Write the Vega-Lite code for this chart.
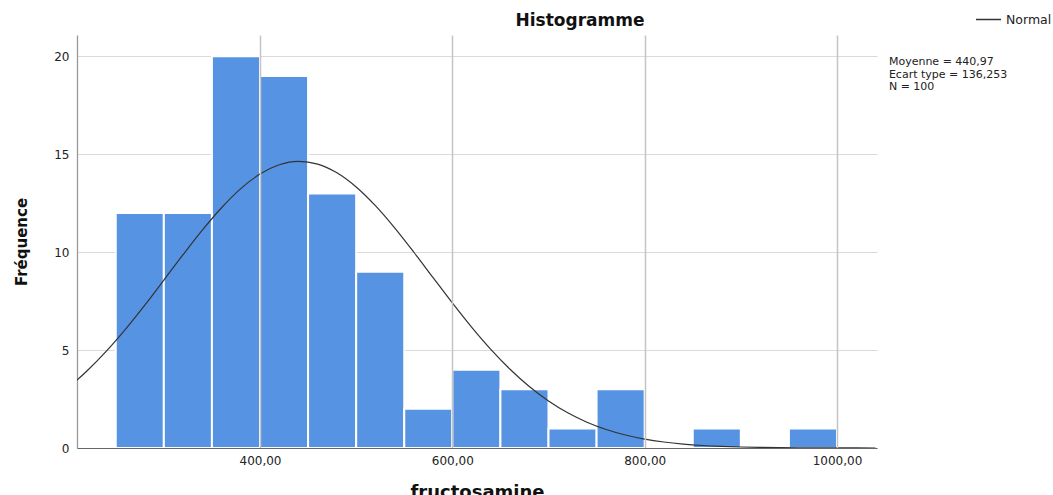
{
  "$schema": "https://vega.github.io/schema/vega-lite/v6.json",
  "autosize": {"type": "none"},
  "padding": {"left": 77, "top": 35, "right": 176, "bottom": 47},
  "width": 800,
  "height": 413,
  "background": "white",
  "title": {"text": "Histogramme", "anchor": "middle", "dx": 103, "dy": 45, "font": "DejaVu Sans", "fontSize": 17, "fontWeight": "bold", "color": "#111", "baseline": "alphabetic", "offset": 8},
  "config": {"view": {"stroke": null}},
  "datasets": {
    "bins": [
      {"bin_start": 250, "bin_end": 300, "count": 12},
      {"bin_start": 300, "bin_end": 350, "count": 12},
      {"bin_start": 350, "bin_end": 400, "count": 20},
      {"bin_start": 400, "bin_end": 450, "count": 19},
      {"bin_start": 450, "bin_end": 500, "count": 13},
      {"bin_start": 500, "bin_end": 550, "count": 9},
      {"bin_start": 550, "bin_end": 600, "count": 2},
      {"bin_start": 600, "bin_end": 650, "count": 4},
      {"bin_start": 650, "bin_end": 700, "count": 3},
      {"bin_start": 700, "bin_end": 750, "count": 1},
      {"bin_start": 750, "bin_end": 800, "count": 3},
      {"bin_start": 850, "bin_end": 900, "count": 1},
      {"bin_start": 950, "bin_end": 1000, "count": 1}
    ],
    "normal": [
      {"x": 200, "y": 3.064}, {"x": 210, "y": 3.480}, {"x": 220, "y": 3.931},
      {"x": 240, "y": 4.934}, {"x": 260, "y": 6.060}, {"x": 280, "y": 7.285},
      {"x": 300, "y": 8.573}, {"x": 320, "y": 9.872}, {"x": 340, "y": 11.125},
      {"x": 360, "y": 12.270}, {"x": 380, "y": 13.245}, {"x": 400, "y": 13.993},
      {"x": 420, "y": 14.467}, {"x": 440, "y": 14.640}, {"x": 460, "y": 14.498},
      {"x": 480, "y": 14.051}, {"x": 500, "y": 13.330}, {"x": 520, "y": 12.374},
      {"x": 540, "y": 11.242}, {"x": 560, "y": 9.996}, {"x": 580, "y": 8.699},
      {"x": 600, "y": 7.408}, {"x": 620, "y": 6.175}, {"x": 640, "y": 5.038},
      {"x": 660, "y": 4.022}, {"x": 680, "y": 3.142}, {"x": 700, "y": 2.403},
      {"x": 720, "y": 1.798}, {"x": 740, "y": 1.317}, {"x": 760, "y": 0.944},
      {"x": 780, "y": 0.663}, {"x": 800, "y": 0.455}, {"x": 820, "y": 0.306},
      {"x": 840, "y": 0.201}, {"x": 860, "y": 0.129}, {"x": 880, "y": 0.0814},
      {"x": 900, "y": 0.0502}, {"x": 920, "y": 0.0303}, {"x": 940, "y": 0.0179},
      {"x": 960, "y": 0.0103}, {"x": 980, "y": 0.0058}, {"x": 1000, "y": 0.0032},
      {"x": 1020, "y": 0.0018}, {"x": 1040, "y": 0.0009}
    ]
  },
  "layer": [
    {
      "data": {"name": "bins"},
      "mark": {"type": "bar", "color": "#5694E3", "stroke": "white", "strokeWidth": 2},
      "encoding": {
        "x": {
          "field": "bin_start", "type": "quantitative",
          "scale": {"domain": [209.7, 1041.6], "nice": false, "zero": false},
          "axis": {
            "values": [400, 600, 800, 1000],
            "labelExpr": "replace(format(datum.value, '.2f'), '.', ',')",
            "title": "fructosamine",
            "titleFont": "DejaVu Sans", "titleFontSize": 18, "titleFontWeight": "bold", "titleColor": "#111",
            "titleBaseline": "top", "titleY": 35,
            "labelFont": "DejaVu Sans", "labelFontSize": 12, "labelColor": "#222", "labelPadding": 7,
            "ticks": false,
            "grid": true, "gridColor": "#c4c4c4", "gridWidth": 1.5,
            "domainColor": "#666", "domainWidth": 1.2,
            "zindex": 1
          }
        },
        "x2": {"field": "bin_end"},
        "y": {
          "field": "count", "type": "quantitative",
          "scale": {"domain": [0, 21.09], "nice": false},
          "axis": {
            "values": [0, 5, 10, 15, 20],
            "title": "Fréquence",
            "titleFont": "DejaVu Sans", "titleFontSize": 15, "titleFontWeight": "bold", "titleColor": "#111",
            "titleX": -56, "titleBaseline": "middle",
            "labelFont": "DejaVu Sans", "labelFontSize": 12, "labelColor": "#222", "labelPadding": 8,
            "ticks": false,
            "grid": true, "gridColor": "#dadada", "gridWidth": 1.2,
            "domainColor": "#999", "domainWidth": 1.3,
            "zindex": 0
          }
        },
        "y2": {"datum": 0}
      }
    },
    {
      "data": {"name": "normal"},
      "mark": {"type": "line", "strokeWidth": 1.2, "interpolate": "monotone", "clip": true},
      "encoding": {
        "x": {"field": "x", "type": "quantitative"},
        "y": {"field": "y", "type": "quantitative"},
        "color": {
          "datum": "Normal",
          "scale": {"range": ["#333333"]},
          "legend": {
            "title": null, "orient": "none", "legendX": 898, "legendY": -29,
            "symbolType": "stroke", "symbolSize": 625, "symbolStrokeWidth": 1.5, "symbolStrokeColor": "#555",
            "labelFont": "DejaVu Sans", "labelFontSize": 12.5, "labelColor": "#222", "labelOffset": 4, "padding": 0
          }
        }
      }
    },
    {
      "data": {"values": [{}]},
      "mark": {
        "type": "text", "text": ["Moyenne = 440,97", "Ecart type = 136,253", "N = 100"],
        "align": "left", "baseline": "alphabetic", "lineHeight": 12.5,
        "font": "DejaVu Sans", "fontSize": 11, "color": "#222", "clip": false
      },
      "encoding": {
        "x": {"datum": 1054},
        "y": {"datum": 19.54}
      }
    }
  ]
}
